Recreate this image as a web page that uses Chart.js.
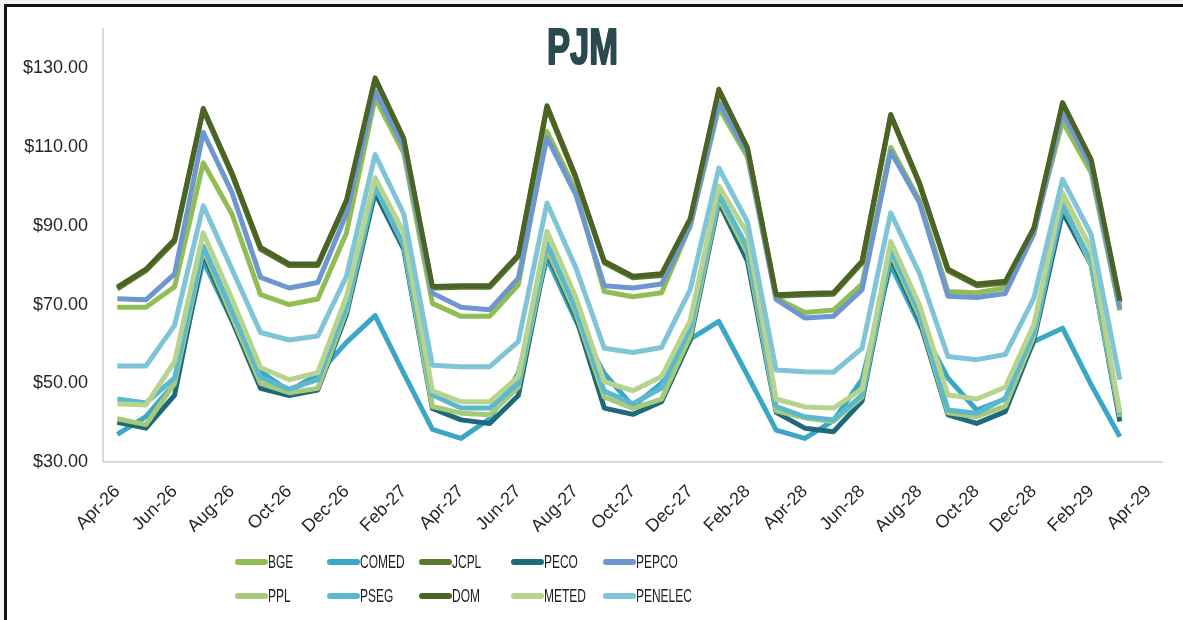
<!DOCTYPE html>
<html>
<head>
<meta charset="utf-8">
<script src="https://cdn.jsdelivr.net/npm/chart.js@4.4.1/dist/chart.umd.min.js"></script>
<style>
  body { margin: 0; width: 1183px; height: 620px; overflow: hidden; position: relative; background: #f2f2f2; }
  #frame { position: absolute; left: 4px; top: 4px; width: 1200px; height: 640px; border: 3px solid #111; background: #fff; }
  #myChart { position: absolute; left: 0; top: 0; }
</style>
</head>
<body>
<div id="frame"></div>
<canvas id="myChart" width="1183" height="620"></canvas>
<script>
const months = ["Apr-26", "May-26", "Jun-26", "Jul-26", "Aug-26", "Sep-26", "Oct-26", "Nov-26", "Dec-26",
  "Jan-27", "Feb-27", "Mar-27", "Apr-27", "May-27", "Jun-27", "Jul-27", "Aug-27", "Sep-27", "Oct-27",
  "Nov-27", "Dec-27", "Jan-28", "Feb-28", "Mar-28", "Apr-28", "May-28", "Jun-28", "Jul-28", "Aug-28",
  "Sep-28", "Oct-28", "Nov-28", "Dec-28", "Jan-29", "Feb-29", "Mar-29", "Apr-29"];

const yTicks = [30, 50, 70, 90, 110, 130];

const bge = [69.3, 69.3, 74.5, 106.0, 93.0, 72.5, 70.0, 71.4, 88.2, 122.5, 108.5, 70.3,
  67.0, 67.0, 75.0, 114.0, 99.0, 73.3, 72.0, 73.0, 90.0, 120.0, 107.5, 71.7,
  68.0, 68.6, 75.2, 109.9, 96.5, 73.3, 73.0, 74.2, 89.0, 116.5, 103.5, 68.5];
const comed = [37.0, 41.5, 50.0, 81.0, 66.0, 53.0, 48.0, 52.3, 60.4, 67.2, 52.5, 38.3,
  36.0, 41.0, 52.5, 81.8, 66.0, 52.5, 44.1, 50.0, 61.2, 65.7, 52.0, 38.1,
  36.0, 40.5, 51.0, 80.0, 65.0, 51.3, 43.2, 46.0, 60.6, 64.0, 49.6, 36.4];
const jcpl = [74.0, 78.6, 86.0, 119.4, 103.0, 84.0, 79.9, 79.9, 96.0, 127.2, 111.8, 74.2,
  74.4, 74.4, 82.2, 120.0, 102.2, 80.6, 76.8, 77.4, 91.4, 124.3, 109.4, 72.1,
  72.4, 72.6, 80.6, 117.9, 100.6, 78.6, 74.8, 75.5, 89.1, 120.9, 106.4, 70.6];
const peco = [40.1, 38.6, 47.0, 83.0, 66.0, 48.7, 46.9, 48.3, 67.5, 98.4, 84.0, 43.6,
  40.7, 39.8, 46.9, 83.4, 67.0, 43.7, 42.1, 45.3, 61.0, 96.0, 81.0, 42.6,
  38.6, 37.7, 45.5, 82.0, 66.0, 42.0, 39.8, 42.8, 61.0, 93.5, 80.0, 40.3];
const pepco = [71.5, 71.2, 77.8, 113.7, 98.5, 76.9, 74.2, 75.6, 93.0, 124.2, 110.0, 72.9,
  69.3, 68.7, 76.7, 112.4, 98.0, 74.8, 74.2, 75.2, 90.0, 121.3, 108.5, 71.3,
  66.6, 67.0, 73.8, 108.9, 96.0, 72.1, 71.8, 72.8, 88.0, 118.8, 105.0, 69.0];
const ppl = [41.0, 39.5, 50.0, 84.0, 67.0, 50.0, 47.6, 48.7, 68.5, 100.1, 85.0, 44.1,
  42.4, 42.0, 49.0, 84.0, 68.0, 46.5, 43.6, 46.0, 62.0, 97.0, 83.0, 43.0,
  41.2, 40.3, 46.5, 83.0, 67.0, 42.5, 41.5, 44.2, 62.0, 96.0, 80.0, 41.5];
const pseg = [46.0, 45.0, 51.4, 84.8, 68.5, 51.5, 48.5, 50.9, 69.5, 100.0, 85.0, 47.0,
  43.7, 43.7, 50.0, 85.6, 69.0, 48.0, 44.8, 48.8, 64.0, 98.0, 84.5, 44.1,
  41.5, 40.7, 47.0, 84.0, 68.0, 43.2, 42.4, 46.2, 63.0, 95.0, 81.0, 42.0];
const dom = [74.4, 79.0, 86.5, 119.8, 103.5, 84.5, 80.3, 80.3, 96.5, 127.6, 112.2, 74.6,
  74.8, 74.8, 82.6, 120.5, 102.6, 81.0, 77.2, 77.8, 91.8, 124.7, 109.8, 72.5,
  72.8, 73.0, 81.0, 118.3, 101.0, 79.0, 75.2, 75.9, 89.5, 121.3, 106.8, 71.0];
const meted = [44.8, 44.5, 55.5, 88.2, 71.5, 54.0, 50.9, 52.7, 72.0, 102.2, 88.3, 48.1,
  45.3, 45.3, 51.7, 88.6, 72.0, 50.4, 48.1, 51.7, 66.0, 100.1, 88.0, 46.0,
  44.0, 43.7, 48.5, 86.0, 70.0, 47.0, 46.0, 49.0, 65.0, 98.4, 84.0, 42.5];
const penelec = [54.4, 54.4, 64.7, 95.1, 79.0, 62.9, 61.0, 62.0, 77.2, 108.1, 93.0, 54.6,
  54.2, 54.2, 60.6, 95.8, 79.5, 58.9, 57.8, 59.1, 73.8, 104.7, 91.0, 53.4,
  52.9, 52.8, 58.9, 93.3, 78.0, 56.8, 56.0, 57.3, 71.7, 101.8, 87.8, 50.9];

const names = ["BGE", "COMED", "JCPL", "PECO", "PEPCO", "PPL", "PSEG", "DOM", "METED", "PENELEC"];
const series = [bge, comed, jcpl, peco, pepco, ppl, pseg, dom, meted, penelec];
const colors = ["#92bd55", "#3ba7c6", "#5b7b2c", "#1f6a7a", "#6f97cf",
  "#a7c97a", "#5cb8cf", "#4b6426", "#b7d48f", "#80c4d7"];

const ctx = document.getElementById("myChart").getContext("2d");

// title + legend drawn by hand (excel layout: title over plot, legend as 5x2 grid)
const extras = {
  id: "extras",
  afterDraw(chart) {
    const c = chart.ctx;
    c.save();
    c.fillStyle = "#2a4a50";
    c.strokeStyle = "#2a4a50";
    c.lineWidth = 2;
    c.lineJoin = "round";
    c.font = "bold 50px 'Liberation Sans', Arial, sans-serif";
    c.textBaseline = "alphabetic";
    const w = c.measureText("PJM").width;
    c.translate(547, 64);
    c.scale(71 / w, 1);
    c.fillText("PJM", 0, 0);
    c.strokeText("PJM", 0, 0);
    c.restore();

    names.forEach((name, i) => {
      const x = 235 + (i % 5) * 92;
      const y = 562 + Math.floor(i / 5) * 34;
      c.save();
      c.strokeStyle = colors[i];
      c.lineWidth = 6;
      c.lineCap = "round";
      c.beginPath();
      c.moveTo(x + 3, y);
      c.lineTo(x + 30, y);
      c.stroke();
      c.fillStyle = "#1e1e1e";
      c.font = "19px 'Liberation Sans', Arial, sans-serif";
      c.textBaseline = "middle";
      c.translate(x + 33, y + 1);
      c.scale(0.63, 1);
      c.fillText(name, 0, 0);
      c.restore();
    });
  },
};

const chart = new Chart(ctx, {
  type: "line",
  data: {
    labels: months,
    datasets: series.map((vals, i) => ({
      label: names[i],
      data: vals,
      borderColor: colors[i],
      backgroundColor: colors[i],
      borderWidth: 5,
      pointRadius: 0,
      tension: 0,
      fill: false,
      borderJoinStyle: "round",
      order: names.length - i,
    })),
  },
  options: {
    responsive: false,
    animation: false,
    layout: { padding: { left: 0, top: 29, right: 16, bottom: 88 } },
    plugins: {
      legend: { display: false },
      title: { display: false },
      tooltip: { enabled: false },
    },
    scales: {
      x: {
        offset: true,
        grid: { display: false, drawTicks: false },
        border: { display: true, color: "#d9d9d9", width: 2 },
        ticks: {
          autoSkip: false,
          maxRotation: 45,
          minRotation: 45,
          padding: 19,
          color: "#262626",
          font: { family: "'Liberation Sans', Arial, sans-serif", size: 18 },
          callback: (val, i) => (i % 2 === 0 ? months[i] : null),
        },
        afterFit: (scale) => { scale.height = 70; },
      },
      y: {
        min: 30,
        max: 140,
        grid: { display: false, drawTicks: false },
        border: { display: true, color: "#d9d9d9", width: 2 },
        afterBuildTicks: (scale) => { scale.ticks = yTicks.map((v) => ({ value: v })); },
        ticks: {
          padding: 15,
          color: "#262626",
          font: { family: "'Liberation Sans', Arial, sans-serif", size: 18 },
          callback: (v) => "$" + v.toFixed(2),
        },
        afterFit: (scale) => { scale.width = 103; },
      },
    },
  },
  plugins: [extras],
});
</script>
</body>
</html>
